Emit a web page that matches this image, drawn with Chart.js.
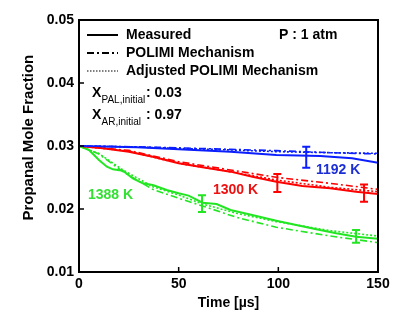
<!DOCTYPE html>
<html>
<head>
<meta charset="utf-8">
<script src="https://cdn.jsdelivr.net/npm/chart.js@4.4.0/dist/chart.umd.min.js"></script>
<style>
html, body { margin: 0; padding: 0; background: #fff; }
</style>
</head>
<body>
<canvas id="chart" width="409" height="324"></canvas>
<script>
// time axis ticks [us] and mole fraction ticks
const xTicks = [0, 50, 100, 150];
const yTicks = [0.01, 0.02, 0.03, 0.04, 0.05];

// 1192 K
const blueMeasT = [0, 29, 50, 76, 99, 121, 137, 150];
const blueMeas  = [0.0300, 0.0298, 0.02947, 0.0291, 0.02857, 0.02841, 0.02804, 0.02735];
const blueModelT = [0, 29, 76, 99, 126, 150];
const bluePolimi = [0.0300, 0.02988, 0.02947, 0.02926, 0.02894, 0.02873];
const blueAdj    = [0.0300, 0.02984, 0.02937, 0.0291, 0.02894, 0.02884];
const blueErrT  = [114];
const blueErrLo = [0.02656];
const blueErrHi = [0.0299];

// 1300 K
const redMeasT = [0, 12, 25, 37, 50, 62, 76, 87, 99, 112, 126, 139, 150];
const redMeas  = [0.0300, 0.02963, 0.0291, 0.0283, 0.02725, 0.02661, 0.02593, 0.02513, 0.02434, 0.02365, 0.02328, 0.02275, 0.02238];
const redModelT = [0, 25, 50, 76, 99, 126, 150];
const redPolimi = [0.0300, 0.0293, 0.02751, 0.02619, 0.02503, 0.02407, 0.02312];
const redAdj    = [0.0300, 0.0292, 0.02725, 0.02593, 0.0246, 0.02344, 0.02275];
const redErrT  = [99.5, 143];
const redErrLo = [0.0227, 0.02116];
const redErrHi = [0.02556, 0.0239];

// 1388 K
const greenMeasT = [0, 5, 10, 14, 17, 22, 27, 32, 37, 44, 50, 55, 62, 69, 76, 82, 89, 99, 109, 119, 129, 139, 150];
const greenMeas  = [0.0300, 0.02937, 0.02778, 0.02672, 0.0263, 0.02608, 0.02487, 0.02407, 0.02381, 0.02302, 0.02249, 0.02212, 0.0210, 0.0208, 0.01984, 0.01942, 0.01889, 0.01815, 0.01746, 0.01677, 0.01614, 0.0156, 0.01529];
const greenModelT = [0, 10, 22, 37, 50, 62, 79, 99, 126, 150];
const greenPolimi = [0.0300, 0.02873, 0.02593, 0.02312, 0.0217, 0.02048, 0.01868, 0.0171, 0.01571, 0.01466];
const greenAdj    = [0.0300, 0.0288, 0.0262, 0.02354, 0.02222, 0.0208, 0.01932, 0.018, 0.01656, 0.01571];
const greenErrT  = [61.7, 139];
const greenErrLo = [0.01952, 0.01465];
const greenErrHi = [0.02217, 0.01667];

const BLUE = '#0a1eff';
const RED = '#ff0000';
const GREEN = '#22e622';
const FONT = "'Liberation Sans', Arial, sans-serif";

function pts(t, v) {
  return t.map((x, i) => ({ x: x, y: v[i] }));
}

function line(t, v, color, kind) {
  return {
    data: pts(t, v),
    borderColor: color,
    borderWidth: kind === 'solid' ? 2 : 1.6,
    borderDash: kind === 'dashdot' ? [7, 3, 2, 3] : kind === 'dot' ? [2, 2] : [],
    pointRadius: 0,
    tension: 0,
    fill: false
  };
}

//error bars, legend, labels and the closed frame
const extras = {
  id: 'extras',
  afterDatasetsDraw(chart) {
    const ctx = chart.ctx;
    const xs = chart.scales.x, ys = chart.scales.y;
    const bars = [
      [blueErrT, blueErrLo, blueErrHi, BLUE],
      [redErrT, redErrLo, redErrHi, RED],
      [greenErrT, greenErrLo, greenErrHi, GREEN]
    ];
    ctx.save();
    ctx.lineWidth = 2;
    bars.forEach(b => {
      ctx.strokeStyle = b[3];
      b[0].forEach((t, i) => {
        const px = xs.getPixelForValue(t);
        const lo = ys.getPixelForValue(b[1][i]);
        const hi = ys.getPixelForValue(b[2][i]);
        ctx.beginPath();
        ctx.moveTo(px, lo); ctx.lineTo(px, hi);
        ctx.moveTo(px - 4, lo); ctx.lineTo(px + 4, lo);
        ctx.moveTo(px - 4, hi); ctx.lineTo(px + 4, hi);
        ctx.stroke();
      });
    });
    ctx.restore();
  },
  afterDraw(chart) {
    const ctx = chart.ctx;
    const a = chart.chartArea;
    const xs = chart.scales.x, ys = chart.scales.y;
    ctx.save();
    // frame
    ctx.strokeStyle = '#000';
    ctx.lineWidth = 2;
    ctx.strokeRect(a.left, a.top, a.right - a.left, a.bottom - a.top);
    // inward ticks
    ctx.lineWidth = 1.5;
    ctx.beginPath();
    xTicks.forEach(v => {
      const px = xs.getPixelForValue(v);
      ctx.moveTo(px, a.bottom); ctx.lineTo(px, a.bottom - 5);
    });
    yTicks.forEach(v => {
      const py = ys.getPixelForValue(v);
      ctx.moveTo(a.left, py); ctx.lineTo(a.left + 5, py);
    });
    ctx.stroke();

    // legend
    ctx.textBaseline = 'middle';
    ctx.fillStyle = '#000';
    ctx.font = 'bold 14px ' + FONT;
    const rows = [['Measured', [], 35], ['POLIMI Mechanism', [7, 3, 2, 3], 53], ['Adjusted POLIMI Mechanism', [1.5, 1.5], 71]];
    rows.forEach(r => {
      ctx.setLineDash(r[1]);
      ctx.lineWidth = r[1].length === 2 ? 1.2 : 2;
      ctx.beginPath();
      ctx.moveTo(87, r[2]); ctx.lineTo(118, r[2]);
      ctx.stroke();
      ctx.setLineDash([]);
      ctx.fillText(r[0], 126, r[2]);
    });
    ctx.fillText('P : 1 atm', 279, 35);

    // initial composition
    [['PAL,initial', ': 0.03', 93], ['AR,initial', ': 0.97', 115]].forEach(r => {
      ctx.font = 'bold 14px ' + FONT;
      ctx.fillText('X', 92, r[2]);
      ctx.font = '10px ' + FONT;
      ctx.fillText(r[0], 101.5, r[2] + 7);
      ctx.font = 'bold 14px ' + FONT;
      ctx.fillText(r[1], 146, r[2]);
    });

    // temperatures
    ctx.font = 'bold 14px ' + FONT;
    ctx.fillStyle = '#1c2ed6';
    ctx.fillText('1192 K', 316, 170);
    ctx.fillStyle = '#ee1111';
    ctx.fillText('1300 K', 213, 190);
    ctx.fillStyle = '#33e033';
    ctx.fillText('1388 K', 88, 195);
    ctx.restore();
  }
};

new Chart(document.getElementById('chart'), {
  type: 'line',
  data: {
    datasets: [
      line(blueModelT, bluePolimi, BLUE, 'dashdot'),
      line(blueModelT, blueAdj, BLUE, 'dot'),
      line(redModelT, redPolimi, RED, 'dashdot'),
      line(redModelT, redAdj, RED, 'dot'),
      line(greenModelT, greenPolimi, GREEN, 'dashdot'),
      line(greenModelT, greenAdj, GREEN, 'dot'),
      line(blueMeasT, blueMeas, BLUE, 'solid'),
      line(redMeasT, redMeas, RED, 'solid'),
      line(greenMeasT, greenMeas, GREEN, 'solid')
    ]
  },
  options: {
    responsive: false,
    animation: false,
    layout: { padding: { left: 0, right: 31, top: 20, bottom: 0 } },
    plugins: { legend: { display: false }, tooltip: { enabled: false } },
    scales: {
      x: {
        type: 'linear',
        min: 0,
        max: 150,
        afterFit: s => { s.height = 52; },
        afterBuildTicks: s => { s.ticks = xTicks.map(v => ({ value: v })); },
        grid: { display: false, drawTicks: false },
        border: { display: false },
        ticks: { padding: 4, color: '#000', font: { family: FONT, size: 14, weight: 'bold' }, maxRotation: 0 },
        title: { display: true, text: 'Time [\u00b5s]', color: '#000', font: { family: FONT, size: 14, weight: 'bold' }, padding: { top: 0, bottom: 12 } }
      },
      y: {
        min: 0.01,
        max: 0.05,
        afterFit: s => { s.width = 79; },
        afterBuildTicks: s => { s.ticks = yTicks.map(v => ({ value: v })); },
        grid: { display: false, drawTicks: false },
        border: { display: false },
        ticks: { padding: 5, color: '#000', font: { family: FONT, size: 14, weight: 'bold' }, callback: v => v.toFixed(2) },
        title: { display: true, text: '    Propanal Mole Fraction', color: '#000', font: { family: FONT, size: 15, weight: 'bold' }, padding: { top: 20, bottom: 0 } }
      }
    }
  },
  plugins: [extras]
});
</script>
</body>
</html>
